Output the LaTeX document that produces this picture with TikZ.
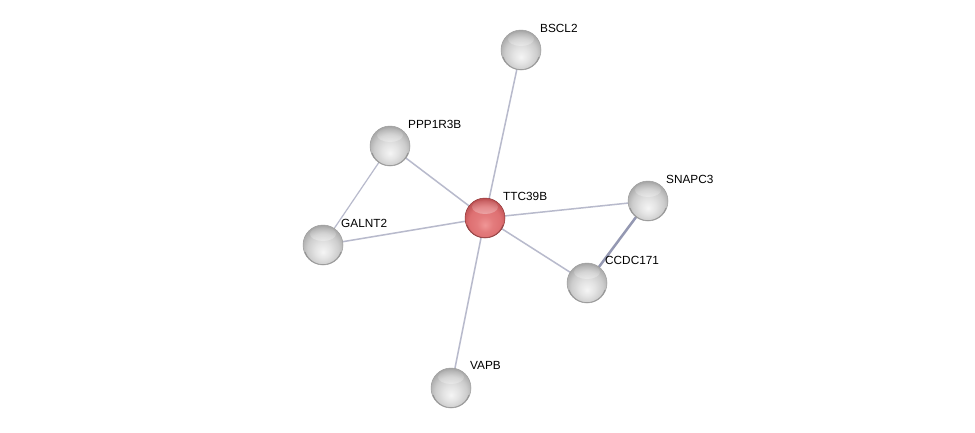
\documentclass[tikz,border=0pt]{standalone}
\usepackage{fontspec}
\setmainfont{Liberation Sans}
\usetikzlibrary{fadings}
\pgfdeclareradialshading{glossgray}{\pgfpoint{0bp}{-9bp}}{%
  color(0bp)=(white!96!black); color(10bp)=(white!89!black); color(20bp)=(white!80!black);
  color(28bp)=(white!66!black); color(34bp)=(white!56!black); color(50bp)=(white!50!black)}
\definecolor{redc}{RGB}{240,150,150}
\definecolor{redm}{RGB}{222,112,114}
\definecolor{rede}{RGB}{170,62,64}
\pgfdeclareradialshading{glossred}{\pgfpoint{0bp}{-9bp}}{%
  color(0bp)=(redc); color(10bp)=(redm!70!redc); color(20bp)=(redm);
  color(28bp)=(rede!60!redm); color(34bp)=(rede); color(50bp)=(rede)}
\definecolor{edgec}{RGB}{184,186,204}
\definecolor{edgestrong}{RGB}{148,152,178}
\begin{document}
\begin{tikzpicture}[x=1pt,y=-1pt,
  hl/.style={path picture={\fill[white,opacity=0.8,path fading=north]
      ([yshift=11pt]path picture bounding box.center) ellipse (13pt and 7pt);
      \draw[black,opacity=0.25,line width=1.5pt] ([yshift=-0.5pt]path picture bounding box.center) ++(-160:19.5pt) arc (-160:-20:19.5pt);}},
  ballnode/.style={circle,minimum size=40pt,inner sep=0pt,shading=glossgray,draw=black!38,line width=0.5pt,hl},
  seednode/.style={circle,minimum size=40pt,inner sep=0pt,shading=glossred,draw=rede!85!black,line width=0.5pt,hl},
  lbl/.style={anchor=base west,font=\fontsize{11.8}{13}\selectfont,inner sep=0pt},
  edge/.style={draw=edgec,line width=1.5pt},
  strongedge/.style={draw=edgestrong,line width=2.5pt}]
\useasboundingbox[fill=white] (0,0) rectangle (975,432);
\coordinate (cT) at (485,218);
\coordinate (cB) at (521,50);
\coordinate (cP) at (390,146);
\coordinate (cS) at (648,201);
\coordinate (cG) at (323,245);
\coordinate (cC) at (587,283);
\coordinate (cV) at (451,388);
% edges
\draw[edge] (cT) -- (cB);
\draw[edge] (cT) -- (cP);
\draw[edge] (cT) -- (cS);
\draw[edge] (cT) -- (cG);
\draw[edge] (cT) -- (cC);
\draw[edge] (cT) -- (cV);
\draw[edge,line width=1.2pt] (cP) -- (cG);
\draw[strongedge] (cS) -- (cC);
% nodes
\node[seednode] (TTC39B) at (cT) {};
\node[ballnode] (BSCL2) at (cB) {};
\node[ballnode] (PPP1R3B) at (cP) {};
\node[ballnode] (SNAPC3) at (cS) {};
\node[ballnode] (GALNT2) at (cG) {};
\node[ballnode] (CCDC171) at (cC) {};
\node[ballnode] (VAPB) at (cV) {};
% labels
\node[lbl] (lT) at (503,200) {TTC39B};
\node[lbl] (lB) at (540,32) {BSCL2};
\node[lbl] (lP) at (408,128) {PPP1R3B};
\node[lbl] (lS) at (666,183) {SNAPC3};
\node[lbl] (lG) at (341,227) {GALNT2};
\node[lbl] (lC) at (605,264) {CCDC171};
\node[lbl] (lV) at (470,369) {VAPB};
\end{tikzpicture}
\end{document}
